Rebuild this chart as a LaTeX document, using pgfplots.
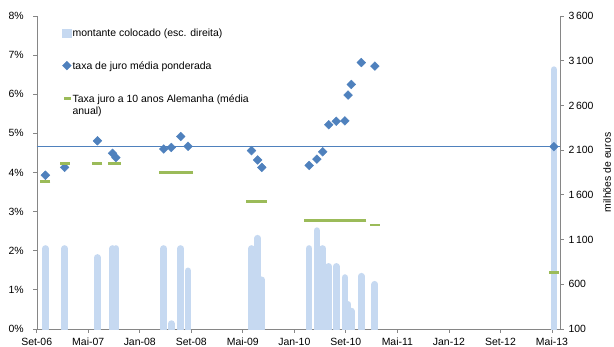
\documentclass[border=0pt]{standalone}
\usepackage{pgfplots}
\pgfplotsset{compat=1.18}
\usepackage{pgfplotstable}
\usepackage{fontspec}
\setmainfont{Liberation Sans}

\definecolor{barblue}{HTML}{C6D9F1}
\definecolor{rateblue}{HTML}{4F81BD}
\definecolor{bundgreen}{HTML}{9BBB59}
\definecolor{axisgray}{HTML}{868686}

% x: months since September 2006; amount in million euros;
% rate: weighted average yield (%); bund: German 10-year yield, yearly mean (%)
\pgfplotstableread{
x      amount  rate  bund
1.35   1000    3.93  3.78
4.34   1000    4.13  4.22
9.43    900    4.81  4.22
11.78  1000    4.49  4.22
12.30  1000    4.38  4.22
19.73  1000    4.60  4.00
20.90   160    4.64  4.00
22.36  1000    4.92  4.00
23.50   750    4.67  4.00
33.35  1000    4.56  3.26
34.30  1115    4.32  3.26
34.95   650    4.13  3.26
42.30  1000    4.18  2.78
43.50  1200    4.34  2.78
44.40  1000    4.53  2.78
45.35   800    5.22  2.78
46.50   800    5.31  2.78
47.85   675    5.32  2.78
48.35   375    5.98  2.78
48.85   300    6.25  2.78
50.40   690    6.81  2.78
52.50   600    6.72  2.66
80.30  3000    4.66  1.45
}\auctions

\pgfplotsset{
  base/.style={
    scale only axis,
    width=523.3bp, height=313bp,
    at={(0,0)}, anchor=south west,
    xmin=0, xmax=81.25,
    axis line style={axisgray},
    tick style={axisgray, line width=0.8bp},
    tick align=outside,
    major tick length=3.5bp,
    ticklabel style={font=\fontsize{10.5}{12}\selectfont, text=black},
    /pgf/number format/assume math mode=true,
  },
  diamondkey/.style={legend image code/.code={%
    \fill[rateblue, rotate around={45:(4.7bp,3.5bp)}] (1.6bp,0.4bp) rectangle (7.8bp,6.6bp);}},
  dashkey/.style={legend image code/.code={%
    \draw[bundgreen, line width=2.8bp] (2bp,3.5bp) -- (8.5bp,3.5bp);}},
  barkey/.style={legend image code/.code={%
    \fill[barblue] (0bp,-0.5bp) rectangle (9.5bp,7.5bp);}},
}

\begin{document}
\begin{tikzpicture}
\useasboundingbox (-36.7bp,-18bp) rectangle (577.3bp,329bp);

% amounts placed, right-hand scale
\begin{axis}[base,
  ymin=100, ymax=3600,
  axis y line*=right,
  axis x line*=bottom,
  ytick={100,600,1100,1600,2100,2600,3100,3600},
  yticklabels={100,600,1\,100,1\,600,2\,100,2\,600,3\,100,3\,600},
  yticklabel style={xshift=1.5bp},
  xtick={0,8,...,80},
  xticklabels={Set-06,Mai-07,Jan-08,Set-08,Mai-09,Jan-10,Set-10,Mai-11,Jan-12,Set-12,Mai-13},
  xticklabel style={yshift=-2bp},
  after end axis/.code={%
    \node[rotate=90, anchor=center, inner sep=0pt,
      font=\fontsize{10.5}{12}\selectfont]
      at ([xshift=47bp]rel axis cs:1,0.5) {milhões de euros};},
]
\addplot[ycomb, barblue, line width=6.7bp, line cap=round]
  table[x=x, y=amount]{\auctions};
\end{axis}

% yields, left-hand scale
\begin{axis}[base,
  ymin=0, ymax=8,
  axis y line*=left,
  axis x line=none,
  ytick={0,1,...,8},
  yticklabel={\pgfmathprintnumber{\tick}\%},
  yticklabel style={xshift=-6bp},
  legend style={draw=none, fill=none, at={(0.0483,0.959)}, anchor=north west,
    inner sep=0pt, outer sep=0pt, row sep=22bp, column sep=0pt,
    font=\fontsize{10.5}{12.5}\selectfont,
    cells={anchor=base west}, nodes={inner sep=0.5bp}},
]
\addlegendimage{barkey}
\addlegendentry{montante colocado (esc. direita)}

\addplot[rateblue, line width=1.2bp, forget plot] coordinates {(0,4.66) (81.25,4.66)};

\addplot[only marks, mark=square*, mark size=3.1bp,
  mark options={rotate=45, fill=rateblue, draw=rateblue}, diamondkey]
  table[x=x, y=rate]{\auctions};
\addlegendentry{taxa de juro média ponderada}

\addplot[only marks, mark=-, mark size=5bp, bundgreen,
  mark options={line width=2.8bp}, dashkey]
  table[x=x, y=bund]{\auctions};
\addlegendentry{\begin{tabular}[t]{@{}l@{}}Taxa juro a 10 anos Alemanha (média\\anual)\end{tabular}}
\end{axis}
\end{tikzpicture}
\end{document}
